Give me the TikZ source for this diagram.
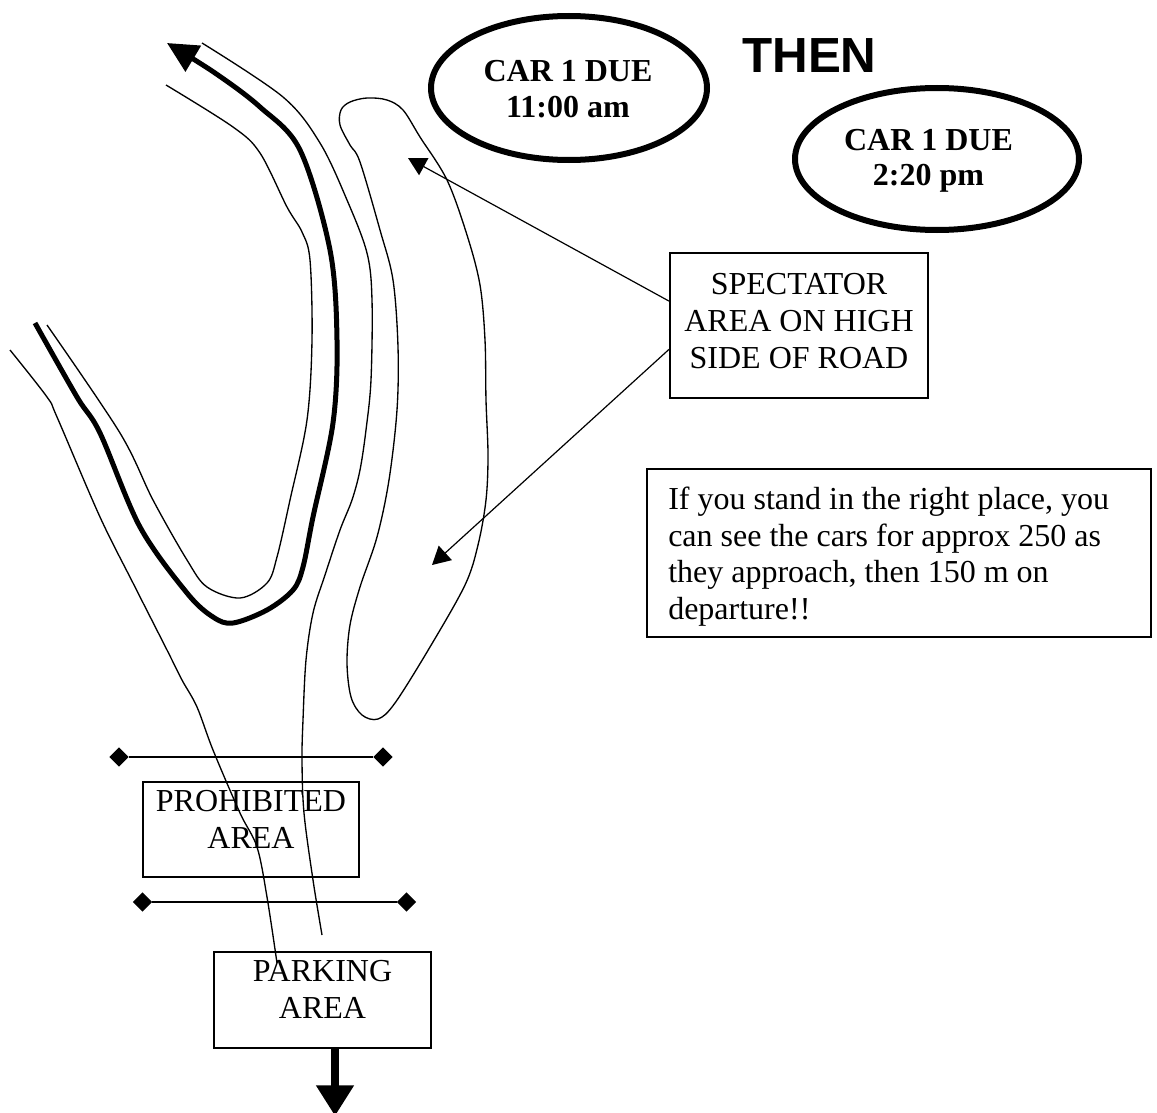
\documentclass[tikz,border=0pt]{standalone}
\usepackage{fontspec}
\setmainfont{Liberation Serif}
\newfontfamily\thenfont{Liberation Sans}
\usetikzlibrary{arrows.meta,shapes.geometric,calc}
\begin{document}
\begin{tikzpicture}[x=0.75pt,y=-0.75pt,
  road/.style={line width=1pt, line join=round},
  roadthick/.style={line width=3.75pt, line join=round},
  boxnode/.style={draw, line width=1.2pt, rectangle, inner sep=0pt},
  oval/.style={draw, ellipse, line width=4.5pt, inner sep=0pt},
  txt/.style={inner sep=0pt, font=\fontsize{24pt}{27.4pt}\selectfont, align=center},
  boldtxt/.style={inner sep=0pt, font=\fontsize{24pt}{26.3pt}\selectfont\bfseries, align=center},
  fencedot/.style={diamond, fill=black, inner sep=0pt, minimum width=14.5pt, minimum height=14.5pt},
  fence/.style={line width=1.3pt},
  pointer/.style={line width=0.9pt, -{Triangle[length=13.5pt,width=14.5pt]}}
]
\useasboundingbox (0,0) rectangle (1157,1113);

% far-left road edge
\draw[road] plot[smooth, tension=0.55] coordinates {(10,350) (47,397) (57,417) (100,517) (133,583) (167,650) (182,680) (197,707) (213,750) (240,813) (257,847) (267,897) (277,963)};
% thick route line with arrow
\draw[roadthick, -{Triangle[length=23pt,width=22pt]}] plot[smooth, tension=0.55] coordinates {(35,323) (77,397) (100,433) (140,527) (187,593) (213,617) (233,623) (267,610) (293,590) (303,567) (313,517) (333,423) (337,340) (330,250) (300,150) (260,107) (215,73) (167,43)};
% inner V line
\draw[road] plot[smooth, tension=0.55] coordinates {(47,325) (120,433) (153,500) (187,560) (207,587) (240,598) (267,583) (277,557) (290,500) (307,420) (312,340) (310,260) (302,232) (287,207) (260,153) (233,127) (166,85)};
% outer right road edge
\draw[road] plot[smooth, tension=0.55] coordinates {(202,43) (283,97) (320,143) (347,200) (367,253) (372,300) (371,380) (366,430) (360,470) (352,500) (340,530) (325,575) (313,613) (306,660) (303,720) (302,760) (304,813) (313,880) (322,935)};
% spectator area outline
\draw[road] plot[smooth cycle, tension=0.55] coordinates {(367,98) (387,100) (403,110) (420,137) (447,180) (467,235) (480,285) (485,340) (486,400) (488,455) (486,500) (478,545) (465,585) (430,647) (395,703) (378,719) (362,715) (351,697) (347,663) (350,625) (360,587) (377,537) (389,480) (397,410) (398,347) (393,280) (380,230) (360,162) (350,145) (340,125) (341,110) (350,102)};

% ovals
\node[oval, minimum width=207pt, minimum height=108pt] (e1) at (569,88) {};
\node[boldtxt, anchor=north] (e1t) at (568,60.5) {CAR 1 DUE\\11:00 am};
\node[oval, minimum width=213pt, minimum height=106.5pt] (e2) at (937,159) {};
\node[boldtxt, anchor=north] (e2t) at (928.5,129) {CAR 1 DUE\\2:20 pm};
\node[inner sep=0pt, anchor=base west, font=\thenfont\bfseries\fontsize{37pt}{40pt}\selectfont] (then) at (742,73) {THEN};

% spectator box
\node[boxnode, minimum width=193.5pt, minimum height=108.75pt] (spec) at (799,325.5) {};
\node[txt, anchor=north] (spect) at (799,273.5) {SPECTATOR\\AREA ON HIGH\\SIDE OF ROAD};
\coordinate (tipa) at (408,158);
\coordinate (tipb) at (432,565);
\draw[pointer] ($(spec.north west)+(0,49)$) -- (tipa);
\draw[pointer] ($(spec.north west)+(0,97)$) -- (tipb);

% info box
\node[boxnode, minimum width=378pt, minimum height=126pt] (info) at (899,553) {};
\node[txt, align=left, anchor=north west] (infot) at (668,487) {If you stand in the right place, you\\can see the cars for approx 250 as\\they approach, then 150 m on\\departure!!};

% fences
\node[fencedot] (f1a) at (119,757) {};
\node[fencedot] (f1b) at (383,757) {};
\draw[fence] (f1a) -- (f1b);
\node[fencedot] (f2a) at (142.5,902) {};
\node[fencedot] (f2b) at (406.5,902) {};
\draw[fence] (f2a) -- (f2b);

% prohibited box
\node[boxnode, minimum width=162pt, minimum height=71.25pt] (proh) at (251,829.5) {};
\node[txt, anchor=north] (proht) at (251,790.5) {PROHIBITED\\AREA};

% parking box
\node[boxnode, minimum width=162.75pt, minimum height=72pt] (park) at (322.5,1000) {};
\node[txt, anchor=north] (parkt) at (322.5,960.5) {PARKING\\AREA};
\coordinate (exit) at (335,1116);
\draw[line width=6pt, -{Triangle[length=23pt,width=27pt]}] ($(park.south)+(12.5,0)$) -- (exit);
\end{tikzpicture}
\end{document}
